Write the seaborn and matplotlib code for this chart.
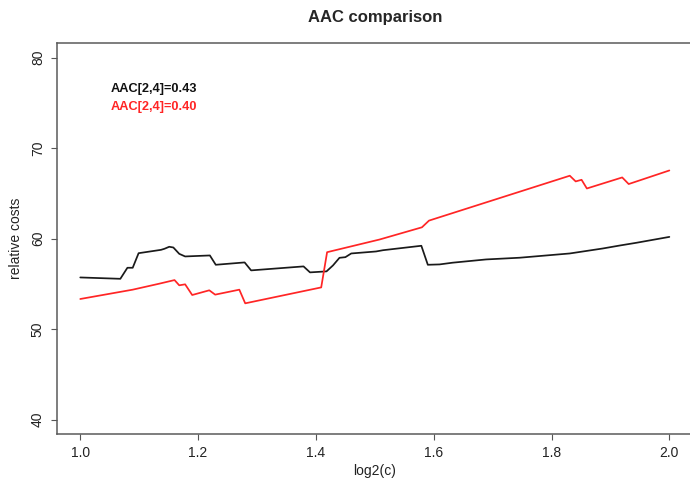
import pandas as pd
import matplotlib
matplotlib.use('Agg')
import matplotlib.pyplot as plt
import seaborn as sns

# values
black_x = [1.000, 1.068, 1.080, 1.089, 1.099, 1.137, 1.143, 1.151, 1.158, 1.168,
           1.178, 1.220, 1.230, 1.279, 1.290, 1.379, 1.390, 1.418, 1.429, 1.440,
           1.450, 1.460, 1.502, 1.514, 1.579, 1.590, 1.610, 1.632, 1.689, 1.746,
           1.831, 1.887, 1.916, 1.944, 2.000]
black_y = [55.70, 55.55, 56.77, 56.77, 58.38, 58.75, 58.87, 59.09, 59.01, 58.31,
           58.02, 58.13, 57.10, 57.36, 56.48, 56.92, 56.26, 56.37, 57.03, 57.87,
           57.94, 58.35, 58.57, 58.71, 59.20, 57.10, 57.14, 57.33, 57.69, 57.88,
           58.35, 58.90, 59.23, 59.53, 60.18]

red_x = [1.000, 1.089, 1.134, 1.160, 1.168, 1.178, 1.190, 1.219, 1.229, 1.270,
         1.280, 1.409, 1.419, 1.508, 1.580, 1.592, 1.831, 1.841, 1.851, 1.860,
         1.920, 1.931, 2.000]
red_y = [53.32, 54.35, 55.01, 55.41, 54.83, 54.94, 53.76, 54.28, 53.80, 54.35,
         52.84, 54.60, 58.49, 59.89, 61.24, 61.98, 66.94, 66.31, 66.49, 65.53,
         66.75, 66.02, 67.52]

x_ticks = [1.0, 1.2, 1.4, 1.6, 1.8, 2.0]
y_ticks = [40, 50, 60, 70, 80]
labels = ['AAC[2,4]=0.43', 'AAC[2,4]=0.40']

sns.set_style('ticks')
plt.rcParams['font.family'] = ['Liberation Sans', 'DejaVu Sans']

data = pd.concat([
    pd.DataFrame({'x': black_x, 'y': black_y, 'series': 'black'}),
    pd.DataFrame({'x': red_x, 'y': red_y, 'series': 'red'}),
])

fig = plt.figure(figsize=(6.9, 4.83), dpi=100)
ax = fig.add_axes([0.0822, 0.1014, 0.922, 0.8095])
sns.lineplot(data=data, x='x', y='y', hue='series', estimator=None, sort=False,
             palette={'black': '#1a1a1a', 'red': '#ff2525'}, linewidth=1.25,
             legend=False, ax=ax)

ax.set_xlim(0.96, 2.04)
ax.set_ylim(38.4, 81.6)
ax.set_xticks(x_ticks)
ax.set_xticklabels([f'{t:.1f}' for t in x_ticks])
ax.set_yticks(y_ticks)
ax.set_yticklabels([str(t) for t in y_ticks], rotation=90, va='center')
ax.tick_params(direction='out', length=4.5, width=0.8, color='#555555',
               labelsize=10, labelcolor='#222222', pad=4)

for side in ['top', 'left', 'bottom', 'right']:
    ax.spines[side].set_visible(True)
    ax.spines[side].set_color('#5a5a5a')
    ax.spines[side].set_linewidth(1.1)

ax.set_xlabel('log2(c)', fontsize=10, color='#222222', va='center')
ax.xaxis.set_label_coords(0.5, -0.095)
ax.set_ylabel('relative costs', fontsize=10, color='#222222', va='center')
ax.yaxis.set_label_coords(-0.064, 0.5)
ax.set_title('AAC comparison', fontsize=12, fontweight='bold', pad=15)

narrow = ['Liberation Sans Narrow', 'Liberation Sans', 'DejaVu Sans']
ax.text(1.051, 76.5, labels[0], color='#111111', fontsize=9.2, fontweight='bold',
        family=narrow, ha='left', va='center')
ax.text(1.051, 74.5, labels[1], color='#ff2525', fontsize=9.2, fontweight='bold',
        family=narrow, ha='left', va='center')

fig.savefig('out.png', dpi=100, facecolor='white')
